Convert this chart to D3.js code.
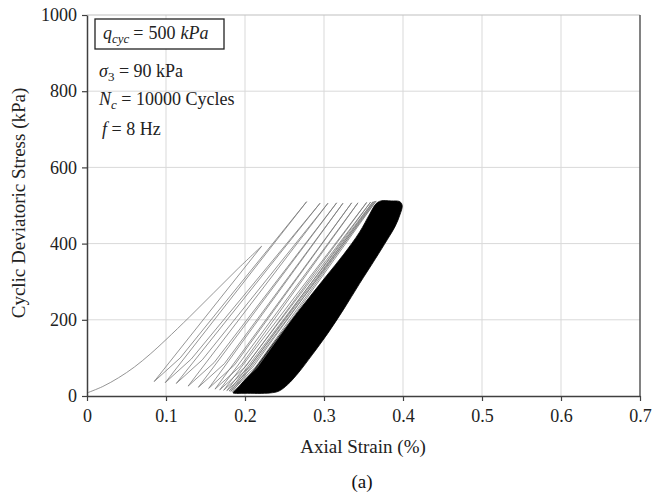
<!DOCTYPE html>
<html><head><meta charset="utf-8">
<script src="https://cdn.jsdelivr.net/npm/d3@7"></script>
<style>body{margin:0;background:#fff}svg{display:block}</style>
</head><body><svg id="c" width="654" height="492"></svg>
<script>
// ---- data ----
const xTicks = [0, 0.1, 0.2, 0.3, 0.4, 0.5, 0.6, 0.7];
const yTicks = [0, 200, 400, 600, 800, 1000];

// first loading branch
const initialStrain = [0, 0.02, 0.04, 0.06, 0.08, 0.10, 0.13, 0.16, 0.19, 0.221];
const initialStress = [8, 25, 48, 76, 110, 148, 208, 270, 332, 393];

// turning points of the individual visible cycles (min -> knee -> peak -> min ...)
const cycleMinStrain  = [0.085, 0.099, 0.113, 0.128, 0.141, 0.154, 0.162, 0.168, 0.173, 0.177, 0.180, 0.182, 0.184];
const cycleMinStress  = [38, 35, 33, 26, 23, 20, 18, 16, 15, 14, 13, 12, 11];
const cycleKneeStrain = [0.118, 0.132, 0.146, 0.161, 0.174, 0.187, 0.195, 0.201, 0.206, 0.210, 0.213, 0.215];
const cycleKneeStress = [100, 97, 95, 88, 85, 82, 80, 78, 77, 76, 75, 74];
const cyclePeakStrain = [0.278, 0.295, 0.305, 0.316, 0.324, 0.335, 0.343, 0.354, 0.359, 0.362, 0.364, 0.366];
const cyclePeakStress = [510, 506, 506, 507, 506, 507, 507, 508, 509, 510, 511, 512];

// outline of the dense (black) band of thousands of cycles
const bandStrain = [0.185, 0.194, 0.211, 0.236, 0.259, 0.281, 0.303, 0.325, 0.345, 0.358, 0.366, 0.372,
                    0.385, 0.396, 0.399, 0.396, 0.390, 0.380, 0.365, 0.345, 0.325, 0.305, 0.285, 0.268,
                    0.254, 0.243, 0.232, 0.2, 0.187];
const bandStress = [8, 29, 68, 138, 200, 258, 315, 372, 430, 478, 505, 512,
                    512, 510, 500, 475, 445, 410, 360, 295, 228, 165, 108, 62,
                    30, 13, 8, 7, 7];

const xTitle = "Axial Strain (%)";
const yTitle = "Cyclic Deviatoric Stress (kPa)";
const caption = "(a)";

// ---- drawing ----
const svg = d3.select("#c");
const FONT = "'Liberation Serif', 'Times New Roman', serif";
const x = d3.scaleLinear().domain([0, 0.7]).range([87, 640]);
const y = d3.scaleLinear().domain([0, 1000]).range([396, 15]);

// grid
svg.append("g").selectAll("line").data(xTicks.slice(1, -1)).join("line")
  .attr("x1", d => x(d)).attr("x2", d => x(d)).attr("y1", y(0)).attr("y2", y(1000))
  .attr("stroke", "#d9d9d9").attr("stroke-width", 1);
svg.append("g").selectAll("line").data(yTicks.slice(1)).join("line")
  .attr("x1", x(0)).attr("x2", x(0.7)).attr("y1", d => y(d)).attr("y2", d => y(d))
  .attr("stroke", d => d === 1000 ? "#bfbfbf" : "#d9d9d9").attr("stroke-width", 1);
// right frame line
svg.append("line").attr("x1", x(0.7)).attr("x2", x(0.7)).attr("y1", y(0)).attr("y2", y(1000))
  .attr("stroke", "#595959").attr("stroke-width", 1.5);

// dense band
const band = bandStrain.map((s, i) => [x(s), y(bandStress[i])]);
svg.append("path").attr("d", d3.line().curve(d3.curveCatmullRomClosed.alpha(0.5))(band))
  .attr("fill", "#000").attr("stroke", "#000").attr("stroke-width", 0.8);

// initial loading
const init = initialStrain.map((s, i) => [x(s), y(initialStress[i])]);
svg.append("path").attr("d", d3.line().curve(d3.curveCatmullRom.alpha(0.5))(init))
  .attr("fill", "none").attr("stroke", "#7a7a7a").attr("stroke-width", 0.8);

// cycles (through turning points)
const cyc = [init[init.length - 1]];
cycleMinStrain.forEach((s, i) => {
  cyc.push([x(s), y(cycleMinStress[i])]);
  if (i < cyclePeakStrain.length) {
    cyc.push([x(cycleKneeStrain[i]), y(cycleKneeStress[i])]);
    cyc.push([x(cyclePeakStrain[i]), y(cyclePeakStress[i])]);
  }
});
svg.append("path").attr("d", d3.line().curve(d3.curveLinear)(cyc))
  .attr("fill", "none").attr("stroke", "#7a7a7a").attr("stroke-width", 0.8)
  .attr("stroke-linejoin", "round");

// axes
const xAxis = d3.axisBottom(x).tickValues(xTicks).tickSize(5).tickSizeOuter(0)
  .tickFormat(d3.format("~g"));
const gx = svg.append("g").attr("transform", `translate(0,${y(0)})`).call(xAxis);
gx.select(".domain").attr("stroke", "#404040").attr("stroke-width", 1.5);
gx.selectAll(".tick line").attr("stroke", "#404040").attr("stroke-width", 1.2);
gx.selectAll(".tick text").attr("font-family", FONT).attr("font-size", 18).attr("fill", "#222")
  .attr("y", 13).attr("dy", "0.71em");

const yAxis = d3.axisLeft(y).tickValues(yTicks).tickSize(5).tickSizeOuter(0)
  .tickFormat(d3.format("d"));
const gy = svg.append("g").attr("transform", `translate(${x(0)},0)`).call(yAxis);
gy.select(".domain").attr("stroke", "#404040").attr("stroke-width", 1.5);
gy.selectAll(".tick line").attr("stroke", "#404040").attr("stroke-width", 1.2);
gy.selectAll(".tick text").attr("font-family", FONT).attr("font-size", 18).attr("fill", "#222")
  .attr("x", -10);

// titles
svg.append("text").attr("x", 363).attr("y", 446).attr("dy", "0.35em").attr("text-anchor", "middle")
  .attr("font-family", FONT).attr("font-size", 19).attr("fill", "#222").text(xTitle);
svg.append("text").attr("transform", "translate(18,203) rotate(-90)").attr("dy", "0.35em")
  .attr("text-anchor", "middle").attr("font-family", FONT).attr("font-size", 19).attr("fill", "#222")
  .text(yTitle);
svg.append("text").attr("x", 362).attr("y", 481).attr("dy", "0.35em").attr("text-anchor", "middle")
  .attr("font-family", FONT).attr("font-size", 19).attr("fill", "#111").text(caption);

// annotation box
svg.append("rect").attr("x", 95).attr("y", 19).attr("width", 129).attr("height", 30)
  .attr("fill", "#fff").attr("stroke", "#222").attr("stroke-width", 1.3);
const t1 = svg.append("text").attr("x", 103).attr("y", 39).attr("font-family", FONT)
  .attr("font-size", 18).attr("fill", "#222");
t1.append("tspan").attr("font-style", "italic").text("q");
t1.append("tspan").attr("font-style", "italic").attr("font-size", 13).attr("dy", 4).text("cyc");
t1.append("tspan").attr("dy", -4).attr("dx", 4).text("=");
t1.append("tspan").attr("dx", 5).text("500");
t1.append("tspan").attr("dx", 5).attr("font-style", "italic").text("kPa");

const t2 = svg.append("text").attr("x", 99).attr("y", 77).attr("font-family", FONT)
  .attr("font-size", 18).attr("fill", "#222");
t2.append("tspan").attr("font-style", "italic").text("σ");
t2.append("tspan").attr("font-size", 13).attr("dy", 4).text("3");
t2.append("tspan").attr("dy", -4).text(" = 90 kPa");

const t3 = svg.append("text").attr("x", 99).attr("y", 105).attr("font-family", FONT)
  .attr("font-size", 18).attr("fill", "#222");
t3.append("tspan").attr("font-style", "italic").text("N");
t3.append("tspan").attr("font-style", "italic").attr("font-size", 13).attr("dy", 4).text("c");
t3.append("tspan").attr("dy", -4).text(" = 10000 Cycles");

const t4 = svg.append("text").attr("x", 102).attr("y", 135).attr("font-family", FONT)
  .attr("font-size", 18).attr("fill", "#222");
t4.append("tspan").attr("font-style", "italic").text("f");
t4.append("tspan").text(" = 8 Hz");
</script></body></html>
